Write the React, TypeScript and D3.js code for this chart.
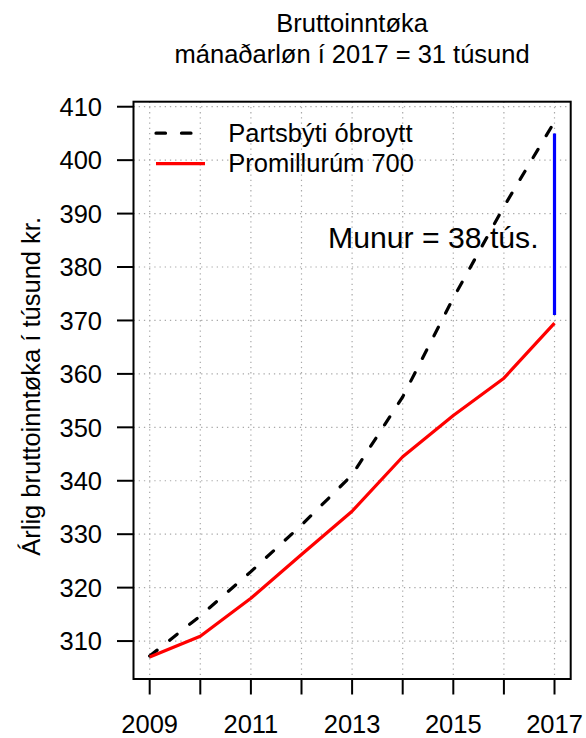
import React from "react";
import * as d3 from "d3";

const years = [2009, 2010, 2011, 2012, 2013, 2014, 2015, 2016, 2017];
const baseline = [307.2, 314.7, 323.0, 331.7, 341.1, 355.7, 374.2, 391.3, 407.2];
const promille = [307.0, 310.9, 318.0, 326.2, 334.3, 344.5, 352.2, 359.2, 369.5];
const diffSegment = [371, 405];
const diffYear = 2017;
const yTicks = [310, 320, 330, 340, 350, 360, 370, 380, 390, 400, 410];
const xLabelYears = [2009, 2011, 2013, 2015, 2017];
const titleLines = ["Bruttoinntøka", "mánaðarløn í 2017 = 31 túsund"];
const legendLabels = ["Partsbýti óbroytt", "Promillurúm 700"];
const yLabel = "Árlig bruttoinntøka í túsund kr.";
const diffLabel = "Munur = 38 tús.";

const W = 586;
const H = 738;
const L = 133.5, R = 570.7, T = 101.7, B = 679;
const FONT = "'Liberation Sans', Arial, Helvetica, sans-serif";

export default function App() {
  const x = d3.scaleLinear().domain([2008.68, 2017.32]).range([L, R]);
  const y = d3.scaleLinear().domain([302.9, 410.94]).range([B, T]);
  const line = d3
    .line<number>()
    .x((_, i) => x(years[i]))
    .y((v) => y(v));
  const cx = (L + R) / 2;
  const fs = 25.5;
  return (
    <svg
      width={W}
      height={H}
      style={{ position: "absolute", left: 0, top: 0, background: "#fff" }}
      fontFamily={FONT}
    >
      <rect x={0} y={0} width={W} height={H} fill="#fff" />
      {/* grid */}
      <g stroke="#a8a8a8" strokeWidth={1.2} strokeDasharray="1.3 3.9">
        {years.map((yr) => (
          <line key={"gx" + yr} x1={x(yr)} x2={x(yr)} y1={T} y2={B} />
        ))}
        {yTicks.map((t) => (
          <line key={"gy" + t} x1={L} x2={R} y1={y(t)} y2={y(t)} />
        ))}
      </g>
      {/* data lines */}
      <path
        d={line(baseline) || ""}
        fill="none"
        stroke="#000"
        strokeWidth={3.2}
        strokeDasharray="9.5 16"
        strokeLinecap="round"
      />
      <path
        d={line(promille) || ""}
        fill="none"
        stroke="#ff0000"
        strokeWidth={3.2}
        strokeLinejoin="round"
      />
      <line
        x1={x(diffYear)}
        x2={x(diffYear)}
        y1={y(diffSegment[0])}
        y2={y(diffSegment[1])}
        stroke="#0000ff"
        strokeWidth={3.2}
      />
      <text
        x={433.3}
        y={248.3}
        fontSize={30.2}
        textAnchor="middle"
        fill="#000"
      >
        {diffLabel}
      </text>
      {/* box */}
      <rect x={L} y={T} width={R - L} height={B - T} fill="none" stroke="#000" strokeWidth={2} />
      {/* y axis */}
      {yTicks.map((t) => (
        <g key={"yt" + t}>
          <line x1={L - 16.5} x2={L} y1={y(t)} y2={y(t)} stroke="#000" strokeWidth={2} />
          <text x={102} y={y(t) + 9.2} fontSize={fs} textAnchor="end" fill="#000">
            {t}
          </text>
        </g>
      ))}
      {/* x axis */}
      {years.map((yr) => (
        <line key={"xt" + yr} x1={x(yr)} x2={x(yr)} y1={B} y2={B + 15.5} stroke="#000" strokeWidth={2} />
      ))}
      {xLabelYears.map((yr) => (
        <text key={"xl" + yr} x={x(yr)} y={732.5} fontSize={fs} textAnchor="middle" fill="#000">
          {yr}
        </text>
      ))}
      {/* title */}
      {titleLines.map((s, i) => (
        <text key={"t" + i} x={cx} y={32 + i * 31} fontSize={fs} textAnchor="middle" fill="#000">
          {s}
        </text>
      ))}
      {/* y label */}
      <text
        transform={`translate(40,${(T + B) / 2 - 4}) rotate(-90)`}
        fontSize={fs}
        textAnchor="middle"
        fill="#000"
      >
        {yLabel}
      </text>
      {/* legend */}
      <line x1={156} x2={205} y1={133.2} y2={133.2} stroke="#000" strokeWidth={3.2} strokeDasharray="9.5 16" strokeLinecap="round" />
      <line x1={156} x2={205} y1={163.7} y2={163.7} stroke="#ff0000" strokeWidth={3.2} />
      <text x={228.3} y={141.7} fontSize={fs} fill="#000">
        {legendLabels[0]}
      </text>
      <text x={228.3} y={172.2} fontSize={fs} fill="#000">
        {legendLabels[1]}
      </text>
    </svg>
  );
}
